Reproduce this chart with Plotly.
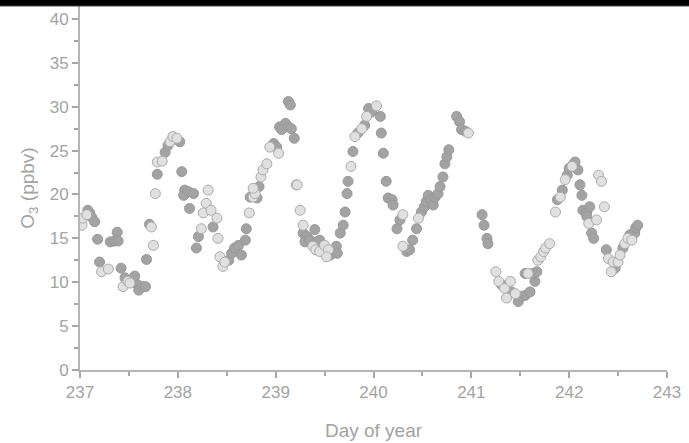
import plotly.graph_objects as go

# Dark series (day of year, O3 ppbv)
dark_day = [237.08, 237.10, 237.12, 237.15, 237.18, 237.20, 237.31, 237.35, 237.38, 237.39,
            237.42, 237.46, 237.56, 237.59, 237.60, 237.64, 237.67, 237.68, 237.71, 237.79,
            237.87, 237.90, 237.97, 238.02,
            238.04, 238.07, 238.06, 238.11, 238.16, 238.12, 238.19, 238.21, 238.36, 238.52,
            238.55, 238.58, 238.62, 238.65, 238.69, 238.70, 238.74, 238.81, 238.83, 238.98,
            239.01, 239.04, 239.10, 239.06, 239.13, 239.16, 239.19, 239.13, 239.15,
            239.28, 239.32, 239.30, 239.35, 239.40, 239.42, 239.45, 239.56, 239.59, 239.62,
            239.63, 239.66, 239.69, 239.71, 239.73, 239.74, 239.79, 239.84, 239.91, 239.95,
            239.98,
            240.07, 240.08, 240.10, 240.13, 240.15, 240.19, 240.20, 240.27, 240.24, 240.34,
            240.37, 240.40, 240.44, 240.49, 240.52, 240.54, 240.56, 240.59, 240.61, 240.63,
            240.66, 240.68, 240.71, 240.73, 240.75, 240.77, 240.85, 240.88, 240.90, 240.94,
            241.11, 241.13, 241.16, 241.17, 241.31, 241.41, 241.48, 241.51, 241.55, 241.60,
            241.65, 241.55, 241.63, 241.67, 241.88, 241.93, 241.98, 242.00, 242.04, 242.06,
            242.09, 242.11, 242.13, 242.14, 242.18, 242.21, 242.18, 242.23, 242.25, 242.38,
            242.47, 242.55, 242.62, 242.67, 242.68, 242.70]
dark_o3 = [18.2, 17.9, 17.4, 16.9, 14.9, 12.3, 14.6, 14.7, 15.7, 14.7,
           11.6, 10.5, 10.7, 9.7, 9.1, 9.5, 9.5, 12.6, 16.6, 22.3,
           24.8, 25.6, 26.3, 26.0,
           22.6, 20.5, 19.9, 20.3, 20.1, 18.4, 13.9, 15.2, 16.3, 12.5,
           13.3, 13.9, 14.2, 13.1, 14.8, 16.1, 19.7, 19.6, 20.9, 25.8,
           25.4, 27.7, 28.1, 27.4, 27.7, 27.5, 26.4, 30.6, 30.2,
           15.6, 15.2, 14.6, 14.8, 16.0, 14.6, 14.8, 13.1, 13.7, 14.1,
           13.3, 15.6, 16.5, 18.0, 20.1, 21.5, 24.9, 27.0, 27.9, 29.8,
           29.4,
           28.9, 27.0, 24.7, 21.5, 19.6, 19.4, 18.8, 17.1, 16.1, 13.5,
           13.7, 14.8, 16.1, 18.0, 18.6, 19.2, 19.9, 19.4, 18.8, 19.7,
           20.1, 20.9, 22.0, 23.5, 24.3, 25.1, 28.9, 28.3, 27.4, 27.2,
           17.7, 16.5, 15.0, 14.4, 9.7, 8.9, 7.8, 8.4, 8.5, 8.9,
           10.1, 11.0, 11.0, 11.2, 19.4, 20.5, 22.2, 23.0, 23.4, 23.7,
           22.8, 21.1, 19.9, 18.2, 18.0, 18.6, 17.5, 15.6, 15.0, 13.7,
           11.6, 13.9, 15.4, 15.6, 16.2, 16.5]

# Light series (day of year, O3 ppbv)
light_day = [237.02, 237.03, 237.07, 237.22, 237.29, 237.44, 237.49, 237.51, 237.73, 237.75,
             237.77, 237.79, 237.84, 237.92, 237.95, 237.99,
             238.31, 238.29, 238.26, 238.34, 238.40, 238.24, 238.41, 238.43, 238.46, 238.48,
             238.73, 238.77, 238.79, 238.77, 238.85, 238.87, 238.91, 238.94, 239.03,
             239.21, 239.22, 239.25, 239.28, 239.38, 239.41, 239.45, 239.50, 239.54, 239.52,
             239.77, 239.81, 239.88, 239.93, 240.03,
             240.30, 240.30, 240.46, 240.97,
             241.25, 241.28, 241.34, 241.40, 241.36, 241.45, 241.58, 241.68, 241.71, 241.74,
             241.76, 241.80, 241.86, 241.91, 241.96, 242.03,
             242.20, 242.28, 242.30, 242.33, 242.36, 242.40, 242.43, 242.45, 242.50, 242.52,
             242.57, 242.60, 242.64]
light_o3 = [16.5, 17.3, 17.7, 11.2, 11.5, 9.5, 10.1, 9.9, 16.3, 14.2,
            20.1, 23.7, 23.8, 26.0, 26.6, 26.4,
            20.5, 19.0, 17.9, 18.2, 17.3, 16.1, 15.0, 12.9, 11.8, 12.3,
            17.9, 19.7, 20.1, 20.7, 22.0, 22.8, 23.5, 25.4, 24.7,
            21.1, 21.1, 18.2, 16.5, 14.1, 13.7, 13.5, 14.2, 13.7, 12.9,
            23.2, 26.6, 27.5, 28.9, 30.1,
            17.7, 14.1, 17.3, 27.0,
            11.2, 10.1, 9.3, 10.1, 8.2, 8.7, 11.0, 12.5, 12.9, 13.5,
            13.9, 14.4, 18.0, 19.7, 21.7, 23.2,
            16.7, 17.1, 22.2, 21.5, 18.6, 12.7, 11.2, 12.3, 12.3, 13.1,
            14.4, 15.0, 14.8]

x_ticks = [237, 238, 239, 240, 241, 242, 243]
y_ticks = [0, 5, 10, 15, 20, 25, 30, 35, 40]

grey = "#a6a6a6"
fig = go.Figure()
fig.add_trace(go.Scatter(x=dark_day, y=dark_o3, mode="markers",
                         marker=dict(size=10, color="#a3a3a3",
                                     line=dict(color="#999999", width=1)),
                         showlegend=False))
fig.add_trace(go.Scatter(x=light_day, y=light_o3, mode="markers",
                         marker=dict(size=10, color="#e0e0e0",
                                     line=dict(color="#ababab", width=1)),
                         showlegend=False))

axis_font = dict(family="Liberation Sans, Arial, sans-serif", size=17, color="#a3a3a3")
title_font = dict(family="Liberation Sans, Arial, sans-serif", size=19, color="#a3a3a3")

fig.update_xaxes(range=[237, 243], tickvals=x_ticks, ticks="outside", ticklen=6,
                 tickwidth=1.5, tickcolor=grey, showline=True, linecolor="#b5b5b5",
                 linewidth=2, showgrid=False, zeroline=False, tickfont=axis_font,
                 minor=dict(dtick=0.5, ticks="outside", ticklen=4, tickwidth=1.5,
                            tickcolor=grey, showgrid=False),
                 title=dict(text="Day of year", font=title_font, standoff=22))
fig.update_yaxes(range=[0, 41.48], tickvals=y_ticks, ticks="outside", ticklen=6,
                 tickwidth=1.5, tickcolor=grey, showline=True, linecolor="#b5b5b5",
                 linewidth=2, showgrid=False, zeroline=False, tickfont=axis_font,
                 minor=dict(dtick=2.5, ticks="outside", ticklen=4, tickwidth=1.5,
                            tickcolor=grey, showgrid=False),
                 title=dict(text="O<sub>3</sub> (ppbv)", font=title_font, standoff=10))

fig.update_layout(width=689, height=443, margin=dict(l=80, r=22, t=6, b=73),
                  paper_bgcolor="white", plot_bgcolor="white",
                  shapes=[dict(type="rect", xref="paper", yref="paper",
                               x0=-0.2, x1=1.1, y0=1.0, y1=1.05,
                               fillcolor="black", line=dict(color="#444444", width=1),
                               layer="above")])

fig.write_html("out.html")
